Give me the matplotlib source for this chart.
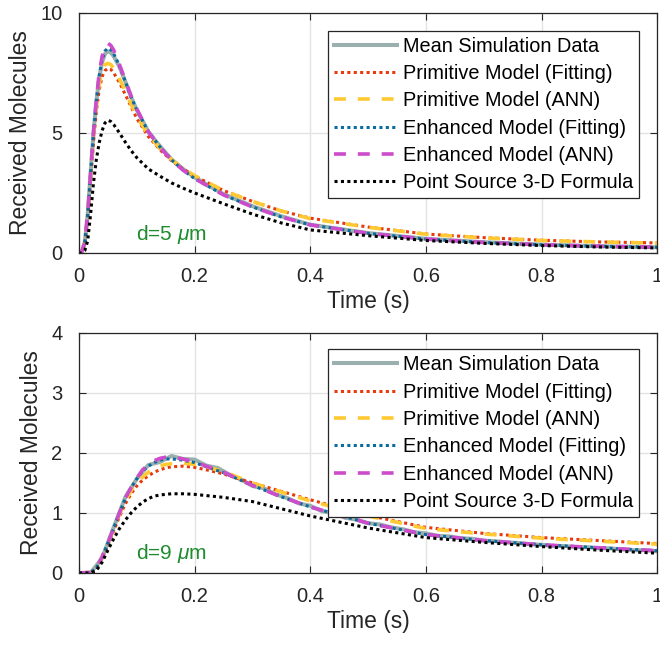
import numpy as np
import matplotlib
matplotlib.use("Agg")
import matplotlib.pyplot as plt

plt.rcParams['font.family'] = ['Liberation Sans', 'DejaVu Sans']
plt.rcParams['mathtext.fontset'] = 'custom'
plt.rcParams['mathtext.rm'] = 'Liberation Sans'
plt.rcParams['mathtext.it'] = 'Liberation Sans:italic'

# ---- data, d = 5 um (top panel) ----
t5 = [0, 0.005, 0.01, 0.015, 0.02, 0.025, 0.03, 0.035, 0.04, 0.045, 0.05, 0.055,
      0.06, 0.07, 0.08, 0.09, 0.10, 0.12, 0.14, 0.16, 0.18, 0.20, 0.25, 0.30,
      0.35, 0.40, 0.50, 0.60, 0.70, 0.80, 0.90, 1.0]
sim5 = [0, 0.05, 0.45, 1.6, 3.3, 5.0, 6.3, 7.3, 7.95, 8.3, 8.4, 8.35, 8.2, 7.75,
        7.15, 6.5, 5.95, 5.05, 4.45, 3.9, 3.5, 3.15, 2.45, 1.95, 1.53, 1.18,
        0.83, 0.59, 0.45, 0.35, 0.28, 0.24]
prim_fit5 = [0, 0.04, 0.4, 1.45, 3.0, 4.6, 5.9, 6.8, 7.35, 7.6, 7.69, 7.65, 7.5,
             7.1, 6.6, 6.1, 5.6, 4.85, 4.3, 3.85, 3.5, 3.2, 2.6, 2.15, 1.75, 1.45,
             1.08, 0.79, 0.64, 0.53, 0.46, 0.42]
prim_ann5 = [0, 0.05, 0.45, 1.55, 3.15, 4.8, 6.1, 7.05, 7.6, 7.85, 7.9, 7.85, 7.7,
             7.25, 6.75, 6.2, 5.7, 4.9, 4.35, 3.9, 3.52, 3.22, 2.6, 2.15, 1.75,
             1.43, 1.07, 0.78, 0.63, 0.52, 0.46, 0.41]
enh_fit5 = [0, 0.05, 0.45, 1.6, 3.3, 5.0, 6.35, 7.4, 8.05, 8.42, 8.53, 8.47, 8.3,
            7.8, 7.15, 6.5, 5.95, 5.05, 4.42, 3.88, 3.45, 3.1, 2.42, 1.92, 1.5,
            1.17, 0.82, 0.58, 0.44, 0.34, 0.28, 0.24]
enh_ann5 = [0, 0.05, 0.45, 1.6, 3.3, 5.0, 6.4, 7.5, 8.2, 8.6, 8.73, 8.65, 8.45,
            7.85, 7.2, 6.55, 6.0, 5.05, 4.4, 3.87, 3.45, 3.1, 2.42, 1.92, 1.5,
            1.17, 0.82, 0.58, 0.44, 0.34, 0.28, 0.24]
point5 = [0, 0.0, 0.1, 0.5, 1.6, 2.9, 3.9, 4.6, 5.1, 5.42, 5.53, 5.48, 5.35, 5.0,
          4.62, 4.27, 3.97, 3.5, 3.2, 2.92, 2.7, 2.5, 2.05, 1.62, 1.25, 0.96,
          0.72, 0.52, 0.4, 0.31, 0.25, 0.21]

# ---- data, d = 9 um (bottom panel) ----
t9 = [0, 0.02, 0.03, 0.04, 0.05, 0.06, 0.07, 0.08, 0.09, 0.10, 0.11, 0.12, 0.13,
      0.14, 0.15, 0.16, 0.18, 0.20, 0.22, 0.25, 0.30, 0.35, 0.40, 0.50, 0.60,
      0.70, 0.80, 0.90, 1.0]
prim_fit9 = [0, 0.01, 0.07, 0.24, 0.46, 0.7, 0.94, 1.15, 1.32, 1.45, 1.55, 1.62,
             1.68, 1.72, 1.75, 1.77, 1.78, 1.76, 1.72, 1.65, 1.5, 1.36, 1.22, 0.96,
             0.76, 0.66, 0.59, 0.54, 0.49]
prim_ann9 = [0, 0.01, 0.08, 0.26, 0.49, 0.73, 0.98, 1.2, 1.37, 1.5, 1.6, 1.68,
             1.74, 1.78, 1.81, 1.82, 1.83, 1.81, 1.77, 1.69, 1.5, 1.35, 1.2, 0.95,
             0.74, 0.65, 0.58, 0.53, 0.48]
enh_fit9 = [0, 0.01, 0.08, 0.27, 0.5, 0.75, 1.0, 1.24, 1.42, 1.57, 1.7, 1.78,
            1.84, 1.88, 1.9, 1.9, 1.88, 1.84, 1.77, 1.67, 1.46, 1.27, 1.1, 0.83,
            0.64, 0.54, 0.47, 0.42, 0.37]
enh_ann9 = [0, 0.01, 0.08, 0.27, 0.5, 0.75, 1.0, 1.25, 1.42, 1.58, 1.72, 1.8,
            1.87, 1.91, 1.93, 1.93, 1.9, 1.85, 1.78, 1.68, 1.46, 1.27, 1.1, 0.83,
            0.64, 0.54, 0.47, 0.42, 0.37]
point9 = [0, 0.0, 0.04, 0.18, 0.38, 0.57, 0.74, 0.88, 1.0, 1.1, 1.18, 1.24, 1.28,
          1.3, 1.31, 1.32, 1.32, 1.31, 1.29, 1.26, 1.19, 1.07, 0.95, 0.75, 0.59,
          0.51, 0.44, 0.38, 0.33]
t9_sim = [0, 0.02, 0.04, 0.06, 0.08, 0.10, 0.12, 0.14, 0.16, 0.18, 0.20, 0.22,
          0.24, 0.26, 0.28, 0.30, 0.32, 0.34, 0.36, 0.38, 0.40, 0.42, 0.44, 0.46,
          0.48, 0.50, 0.52, 0.54, 0.56, 0.58, 0.60, 0.62, 0.64, 0.66, 0.68, 0.70,
          0.72, 0.74, 0.76, 0.78, 0.80, 0.82, 0.84, 0.86, 0.88, 0.90, 0.92, 0.94,
          0.96, 0.98, 1.0]
sim9 = [0, 0.0, 0.25, 0.76, 1.26, 1.57, 1.8, 1.85, 1.95, 1.9, 1.89, 1.79, 1.75,
        1.64, 1.56, 1.45, 1.41, 1.31, 1.25, 1.16, 1.12, 1.03, 1.0, 0.92, 0.89,
        0.83, 0.81, 0.76, 0.73, 0.68, 0.66, 0.62, 0.61, 0.58, 0.57, 0.54, 0.53,
        0.51, 0.5, 0.48, 0.47, 0.45, 0.45, 0.43, 0.43, 0.41, 0.41, 0.39, 0.38,
        0.38, 0.36]

labels = ['Mean Simulation Data', 'Primitive Model (Fitting)',
          'Primitive Model (ANN)', 'Enhanced Model (Fitting)',
          'Enhanced Model (ANN)', 'Point Source 3-D Formula']

txt = '#262626'
fig = plt.figure(figsize=(6.6, 6.47), dpi=100)
ax1 = fig.add_axes([0.1197, 0.609, 0.876, 0.371])
ax2 = fig.add_axes([0.1197, 0.1144, 0.876, 0.371])

panels = [
    (ax1, t5, sim5, t5, prim_fit5, prim_ann5, enh_fit5, enh_ann5, point5,
     10, [0, 5, 10], 'd=5 $\\mu$m', 0.052, 0.926),
    (ax2, t9_sim, sim9, t9, prim_fit9, prim_ann9, enh_fit9, enh_ann9, point9,
     4, [0, 1, 2, 3, 4], 'd=9 $\\mu$m', 0.057, 0.932),
]

for (ax, ts, sim, tm, pf, pa, ef, ea, ps, ymax, yt, dlab, dy, legy) in panels:
    ax.plot(ts, sim, color='#9AB0AE', lw=2.9, label=labels[0])
    ax.plot(tm, pf, color='#E8380C', lw=2.2, ls=(0, (1, 1.1)), label=labels[1])
    ax.plot(tm, pa, color='#FFC933', lw=2.6, ls=(0, (3.3, 3.3)), label=labels[2])
    ax.plot(tm, ef, color='#0B6A9E', lw=2.2, ls=(0, (1, 1.1)), label=labels[3])
    ax.plot(tm, ea, color='#CC4CCC', lw=2.6, ls=(0, (3.3, 3.3)), label=labels[4])
    ax.plot(tm, ps, color='black', lw=2.2, ls=(0, (1, 1.1)), label=labels[5])

    ax.set_xlim(0, 1)
    ax.set_ylim(0, ymax)
    ax.set_xticks([0, 0.2, 0.4, 0.6, 0.8, 1])
    ax.set_xticklabels(['0', '0.2', '0.4', '0.6', '0.8', '1'])
    ax.set_yticks(yt)
    ax.grid(True, color='#E3E3E3', lw=1)
    ax.set_axisbelow(True)
    ax.tick_params(direction='in', length=5, width=0.8, top=True, right=True,
                   labelsize=14.5, colors=txt)
    ax.tick_params(axis='x', pad=10)
    ax.tick_params(axis='y', pad=12)
    for s in ax.spines.values():
        s.set_color(txt)
        s.set_linewidth(0.9)
    ax.set_xlabel('Time (s)', fontsize=16.5, color=txt, labelpad=3)
    ax.set_ylabel('Received Molecules', fontsize=16.5, color=txt, labelpad=6)
    ax.text(0.0986, dy, dlab, transform=ax.transAxes, fontsize=15,
            color='#1E8C2E')

    leg = ax.legend(loc='upper right', bbox_to_anchor=(0.969, legy),
                    fontsize=14.3, frameon=True, fancybox=False,
                    edgecolor=txt, framealpha=1, borderpad=0.3,
                    labelspacing=0.42, handlelength=3.2, handletextpad=0.3,
                    borderaxespad=0)
    leg.get_frame().set_linewidth(0.9)

fig.savefig('out.png', dpi=100)
